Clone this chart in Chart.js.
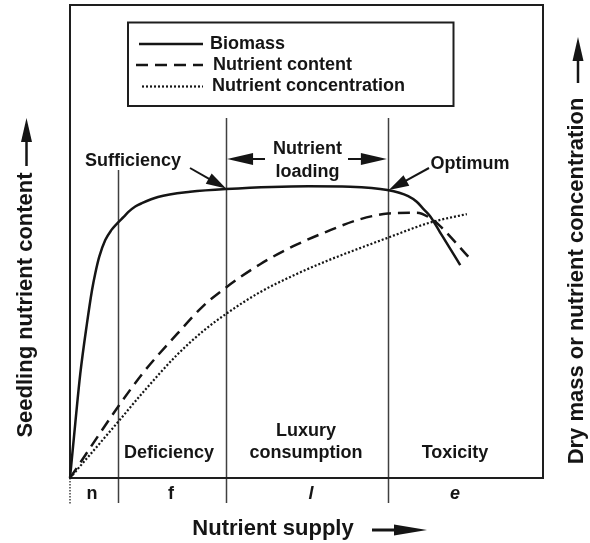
<!DOCTYPE html>
<html>
<head>
<meta charset="utf-8">
<script src="https://cdn.jsdelivr.net/npm/chart.js@4/dist/chart.umd.min.js"></script>
<style>
  body { margin: 0; background: #fff; }
  canvas { display: block; }
</style>
</head>
<body>
<canvas id="chart" width="590" height="543"></canvas>
<script>
// nutrient supply (x) and relative response (y)
const biomassX = [0, 1.12, 2.18, 3.59, 4.65, 5.35, 6.19, 7.46, 8.73, 9.94, 11.35, 12.41, 13.8, 15.2, 18.6, 25.4, 33.0, 50.4, 59.2, 67.1, 71.5, 73.3, 74.7, 76.1, 78.2, 80.3, 82.5];
const biomassY = [0, 11.6, 22.1, 32.7, 39.7, 43.3, 46.8, 50.3, 52.4, 53.8, 55.2, 56.3, 57.4, 58.1, 59.4, 60.5, 61.1, 61.7, 61.6, 60.9, 59.6, 58.4, 56.9, 55.4, 52.0, 48.6, 45.0];

const contentX = [0, 10.2, 15.5, 22.6, 28.2, 33.0, 40.2, 47.2, 54.3, 61.3, 67.2, 73.3, 76.1, 78.2, 84.2];
const contentY = [0, 15.1, 22.3, 30.4, 36.4, 40.3, 45.2, 49.0, 52.1, 54.7, 55.9, 56.1, 55.0, 53.3, 46.8];

const concX = [0, 10.2, 15.5, 22.6, 28.2, 33.0, 40.2, 47.2, 54.3, 61.3, 67.2, 76.1, 83.9];
const concY = [0, 11.9, 18.2, 26.0, 31.1, 34.7, 39.3, 42.8, 45.9, 48.6, 50.8, 54.0, 55.8];

// n|f, f|l, l|e boundaries on the supply axis
const zoneBounds = [10.2, 33.0, 67.2];
const zoneLetters = ["n", "f", "l", "e"];
const zoneNames = ["Deficiency", "Luxury consumption", "Toxicity"];

const seriesLabels = ["Biomass", "Nutrient content", "Nutrient concentration"];

const INK = "#151515";
const FONT = '"Liberation Sans", Arial, Helvetica, sans-serif';

function pts(xs, ys) {
    return xs.map((x, i) => ({ x: x, y: ys[i] }));
}

function arrow(ctx, x1, y1, x2, y2, len, wid, lw) {
    const a = Math.atan2(y2 - y1, x2 - x1);
    const bx = x2 - Math.cos(a) * len, by = y2 - Math.sin(a) * len;
    ctx.save();
    ctx.strokeStyle = INK;
    ctx.fillStyle = INK;
    ctx.lineWidth = lw || 2;
    ctx.setLineDash([]);
    ctx.beginPath();
    ctx.moveTo(x1, y1);
    ctx.lineTo(bx + Math.cos(a) * 2, by + Math.sin(a) * 2);
    ctx.stroke();
    ctx.beginPath();
    ctx.moveTo(x2, y2);
    ctx.lineTo(bx + Math.sin(a) * wid / 2, by - Math.cos(a) * wid / 2);
    ctx.lineTo(bx - Math.sin(a) * wid / 2, by + Math.cos(a) * wid / 2);
    ctx.closePath();
    ctx.fill();
    ctx.restore();
}

function text(ctx, s, x, y, size, opts) {
    opts = opts || {};
    ctx.save();
    ctx.fillStyle = INK;
    ctx.font = (opts.italic ? "italic " : "") + "bold " + size + "px " + FONT;
    ctx.textAlign = opts.align || "center";
    ctx.textBaseline = "middle";
    if (opts.rotate) {
        ctx.translate(x, y);
        ctx.rotate(opts.rotate);
        ctx.fillText(s, 0, 0);
    } else {
        ctx.fillText(s, x, y);
    }
    ctx.restore();
}

const framePlugin = {
    id: "frame",
    beforeDatasetsDraw(chart) {
        const ctx = chart.ctx;
        const a = chart.chartArea;
        const xs = chart.scales.x;

        ctx.save();
        // zone boundaries, running past the bottom edge
        ctx.strokeStyle = "#404040";
        ctx.lineWidth = 1.5;
        zoneBounds.forEach((b, i) => {
            const px = Math.round(xs.getPixelForValue(b)) + 0.5;
            ctx.beginPath();
            ctx.moveTo(px, i === 0 ? 170 : 118);
            ctx.lineTo(px, 503);
            ctx.stroke();
        });
        // dotted tick at the origin
        ctx.setLineDash([1.5, 1.5]);
        ctx.beginPath();
        ctx.moveTo(a.left, a.bottom);
        ctx.lineTo(a.left, 505);
        ctx.stroke();
        ctx.setLineDash([]);

        // plot frame
        ctx.strokeStyle = "#1e1e1e";
        ctx.lineWidth = 2;
        ctx.strokeRect(a.left, a.top, a.right - a.left, a.bottom - a.top);
        ctx.restore();
    },
    afterDraw(chart) {
        const ctx = chart.ctx;
        const xs = chart.scales.x;
        const b = zoneBounds.map(v => xs.getPixelForValue(v));

        // legend box drawn from the datasets
        ctx.save();
        ctx.strokeStyle = "#1e1e1e";
        ctx.lineWidth = 2;
        ctx.strokeRect(128, 22.5, 325.5, 83.5);
        const rows = [44, 65, 86.5];
        const sampleStart = [139, 136, 142];
        const textStart = [210, 213, 212];
        chart.data.datasets.forEach((ds, i) => {
            ctx.save();
            ctx.strokeStyle = ds.borderColor;
            ctx.lineWidth = ds.borderWidth;
            ctx.setLineDash(ds.borderDash || []);
            ctx.beginPath();
            ctx.moveTo(sampleStart[i], rows[i]);
            ctx.lineTo(203, rows[i]);
            ctx.stroke();
            ctx.restore();
            text(ctx, ds.label, textStart[i], rows[i], 18, { align: "left" });
        });
        ctx.restore();

        // zone letters under the axis
        const letterX = [92, 171, 311, 455];
        zoneLetters.forEach((l, i) => {
            text(ctx, l, letterX[i], 494, 18, { italic: i >= 2 });
        });

        // zone names
        text(ctx, zoneNames[0], 169, 453, 18);
        const lux = zoneNames[1].split(" ");
        text(ctx, lux[0], 306, 431, 18);
        text(ctx, lux[1], 306, 453, 18);
        text(ctx, zoneNames[2], 455, 453, 18);

        // annotations
        text(ctx, "Sufficiency", 133, 161, 18);
        arrow(ctx, 190, 168, b[1], 188.5, 20, 12, 2);
        text(ctx, "Nutrient", 307.5, 149, 18);
        text(ctx, "loading", 307.5, 172, 18);
        arrow(ctx, 265, 159, b[1] + 1, 159, 26, 12, 2);
        arrow(ctx, 348, 159, b[2] - 1, 159, 26, 12, 2);
        text(ctx, "Optimum", 470, 164, 18);
        arrow(ctx, 429, 168, b[2] + 1, 190, 20, 12, 2);

        // axis titles
        text(ctx, "Nutrient supply", 273, 529, 22);
        arrow(ctx, 372, 530, 427, 530, 33, 11, 3);
        text(ctx, "Seedling nutrient content", 26, 305, 22, { rotate: -Math.PI / 2 });
        arrow(ctx, 26.5, 166, 26.5, 118, 24, 11, 2.5);
        text(ctx, "Dry mass or nutrient concentration", 577, 281, 22, { rotate: -Math.PI / 2 });
        arrow(ctx, 578, 83, 578, 37, 24, 11, 2.5);
    }
};

const ctx = document.getElementById("chart").getContext("2d");
new Chart(ctx, {
    type: "line",
    data: {
        datasets: [
            {
                label: seriesLabels[0],
                data: pts(biomassX, biomassY),
                borderColor: INK,
                borderWidth: 2.5,
                borderDash: []
            },
            {
                label: seriesLabels[1],
                data: pts(contentX, contentY),
                borderColor: INK,
                borderWidth: 2.5,
                borderDash: [12, 7]
            },
            {
                label: seriesLabels[2],
                data: pts(concX, concY),
                borderColor: INK,
                borderWidth: 2.2,
                borderDash: [2, 2]
            }
        ]
    },
    options: {
        responsive: false,
        devicePixelRatio: 1,
        animation: false,
        layout: { padding: { left: 70, right: 47, top: 5, bottom: 65 } },
        elements: {
            point: { radius: 0 },
            line: { cubicInterpolationMode: "monotone", fill: false }
        },
        datasets: { line: { clip: false } },
        scales: {
            x: { type: "linear", min: 0, max: 100, display: false },
            y: { min: 0, max: 100, display: false }
        },
        plugins: {
            legend: { display: false },
            tooltip: { enabled: false }
        }
    },
    plugins: [framePlugin]
});
</script>
</body>
</html>
